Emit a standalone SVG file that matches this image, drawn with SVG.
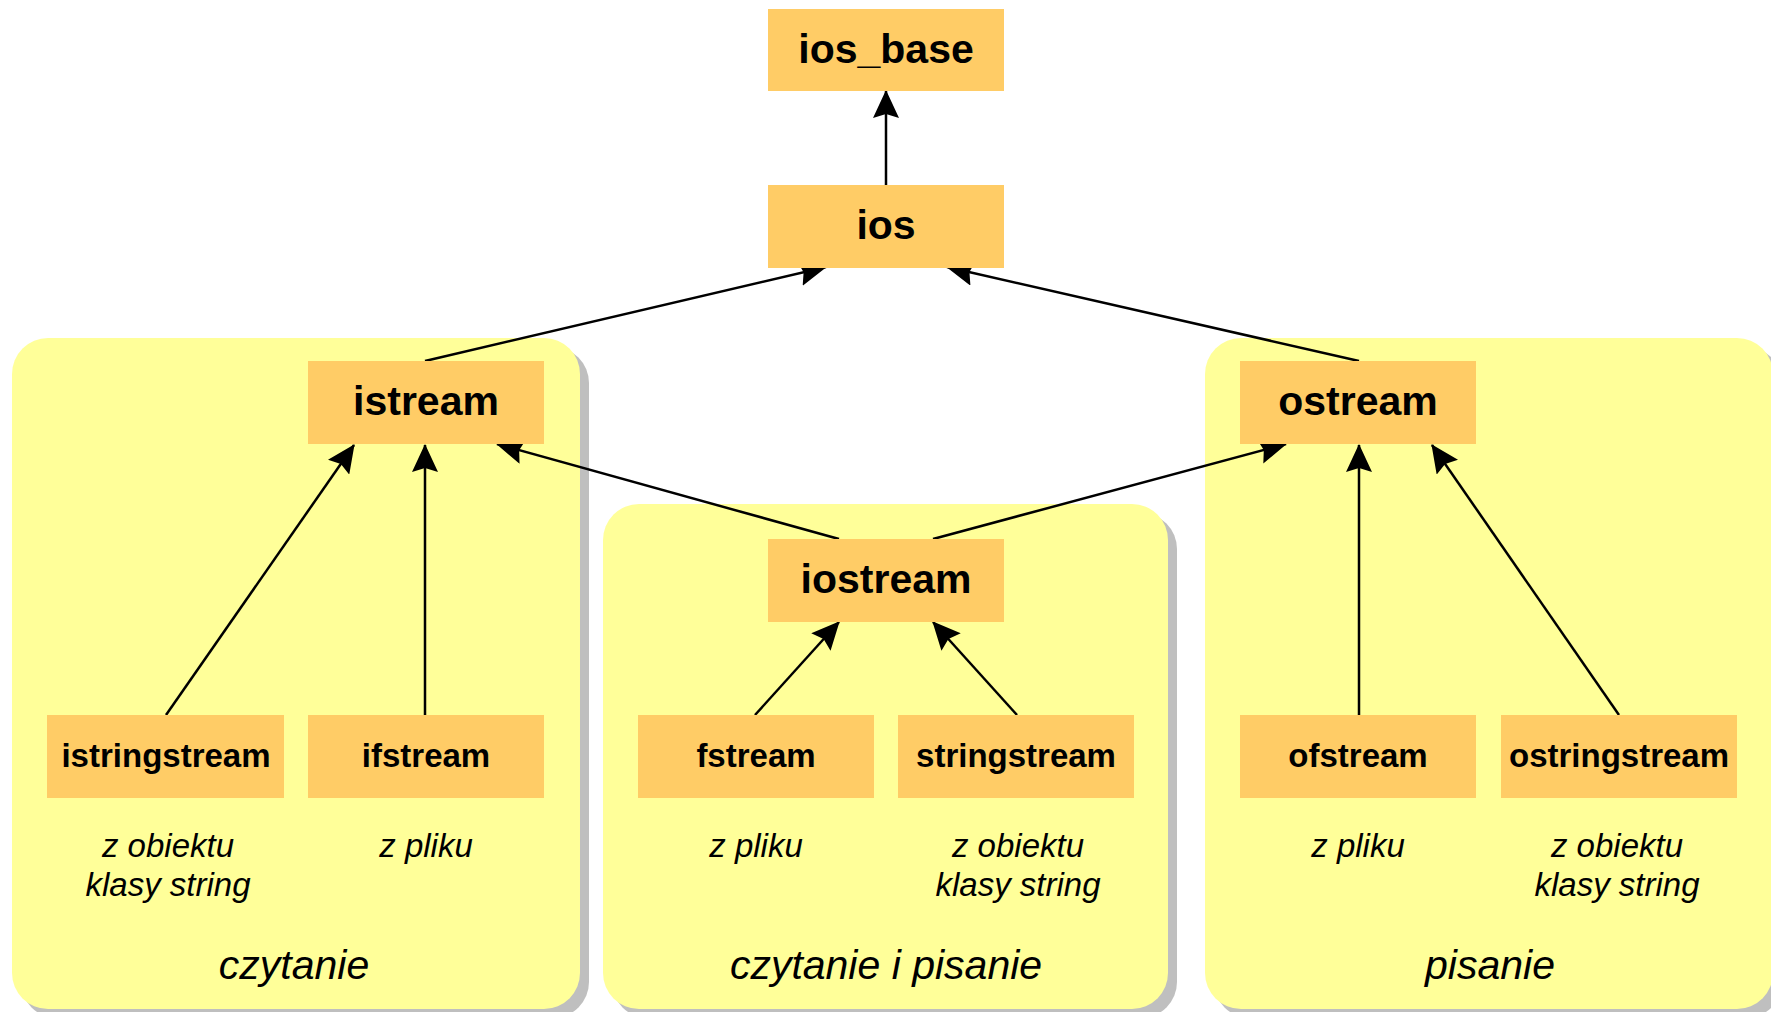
<svg xmlns="http://www.w3.org/2000/svg" width="1771" height="1012" viewBox="0 0 1771 1012">
<style>
.panel{fill:#FFFF99}
.shadow{fill:#BFBFBF}
.node rect{fill:#FFCC66}
.big{font-family:"Liberation Sans",Arial,sans-serif;font-weight:bold;font-size:41px;text-anchor:middle;fill:#000}
.small{font-family:"Liberation Sans",Arial,sans-serif;font-weight:bold;font-size:33px;text-anchor:middle;fill:#000}
.note{font-family:"Liberation Sans",Arial,sans-serif;font-style:italic;font-size:33px;text-anchor:middle;fill:#000}
.title{font-family:"Liberation Sans",Arial,sans-serif;font-style:italic;font-size:41px;text-anchor:middle;fill:#000}
.conn line{stroke:#000;stroke-width:2.5;marker-end:url(#arr)}
</style>
<defs>
<marker id="arr" viewBox="0 0 28 26" refX="27" refY="13" markerWidth="28" markerHeight="26" markerUnits="userSpaceOnUse" orient="auto">
<path d="M0,0 L28,13 L0,26 L4,13 Z" fill="#000"/>
</marker>
</defs>
<rect width="1771" height="1012" fill="#fff"/>
<g id="panel-czytanie">
<rect class="shadow" x="21" y="347" width="568" height="671" rx="36"/>
<rect class="panel" x="12" y="338" width="568" height="671" rx="36"/>
<text class="title" x="294" y="979">czytanie</text>
</g>
<g id="panel-czytanie-i-pisanie">
<rect class="shadow" x="612" y="513" width="565" height="505" rx="36"/>
<rect class="panel" x="603" y="504" width="565" height="505" rx="36"/>
<text class="title" x="886" y="979">czytanie i pisanie</text>
</g>
<g id="panel-pisanie">
<rect class="shadow" x="1214" y="347" width="568" height="671" rx="36"/>
<rect class="panel" x="1205" y="338" width="568" height="671" rx="36"/>
<text class="title" x="1490" y="979">pisanie</text>
</g>
<g class="conn" id="connectors">
<line x1="886" y1="185" x2="886" y2="91"/>
<line x1="425" y1="361" x2="826" y2="267"/>
<line x1="1359" y1="361" x2="947" y2="267"/>
<line x1="839" y1="539" x2="497" y2="444"/>
<line x1="933" y1="539" x2="1286" y2="444"/>
<line x1="166" y1="715" x2="354" y2="445"/>
<line x1="425" y1="715" x2="425" y2="445"/>
<line x1="755" y1="715" x2="839" y2="622"/>
<line x1="1017" y1="715" x2="933" y2="622"/>
<line x1="1359" y1="715" x2="1359" y2="445"/>
<line x1="1619" y1="715" x2="1432" y2="445"/>
</g>
<g class="node" id="ios_base"><rect x="768" y="9" width="236" height="82"/><text class="big" x="886" y="63">ios_base</text></g>
<g class="node" id="ios"><rect x="768" y="185" width="236" height="83"/><text class="big" x="886" y="239">ios</text></g>
<g class="node" id="istream"><rect x="308" y="361" width="236" height="83"/><text class="big" x="426" y="415">istream</text></g>
<g class="node" id="ostream"><rect x="1240" y="361" width="236" height="83"/><text class="big" x="1358" y="415">ostream</text></g>
<g class="node" id="iostream"><rect x="768" y="539" width="236" height="83"/><text class="big" x="886" y="593">iostream</text></g>
<g class="node" id="istringstream"><rect x="47" y="715" width="237" height="83"/><text class="small" x="166" y="767">istringstream</text></g>
<g class="node" id="ifstream"><rect x="308" y="715" width="236" height="83"/><text class="small" x="426" y="767">ifstream</text></g>
<g class="node" id="fstream"><rect x="638" y="715" width="236" height="83"/><text class="small" x="756" y="767">fstream</text></g>
<g class="node" id="stringstream"><rect x="898" y="715" width="236" height="83"/><text class="small" x="1016" y="767">stringstream</text></g>
<g class="node" id="ofstream"><rect x="1240" y="715" width="236" height="83"/><text class="small" x="1358" y="767">ofstream</text></g>
<g class="node" id="ostringstream"><rect x="1501" y="715" width="236" height="83"/><text class="small" x="1619" y="767">ostringstream</text></g>
<g id="notes">
<text class="note" x="168" y="857">z obiektu</text>
<text class="note" x="168" y="896">klasy string</text>
<text class="note" x="426" y="857">z pliku</text>
<text class="note" x="756" y="857">z pliku</text>
<text class="note" x="1018" y="857">z obiektu</text>
<text class="note" x="1018" y="896">klasy string</text>
<text class="note" x="1358" y="857">z pliku</text>
<text class="note" x="1617" y="857">z obiektu</text>
<text class="note" x="1617" y="896">klasy string</text>
</g>
</svg>
